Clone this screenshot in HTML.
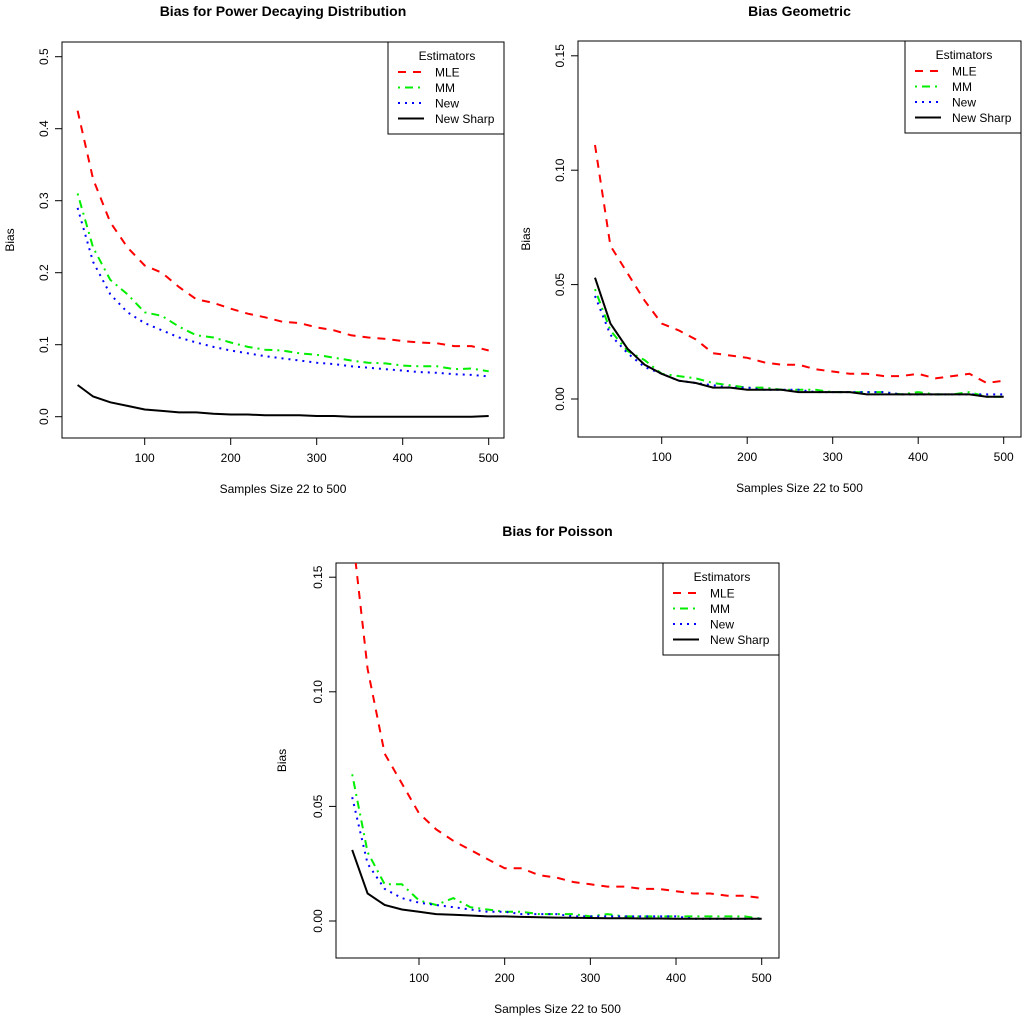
<!DOCTYPE html>
<html><head><meta charset="utf-8">
<style>
html,body{margin:0;padding:0;background:#fff;}
svg text{font-family:"Liberation Sans",Arial,sans-serif;}
</style></head>
<body>
<svg id="chart" width="1024" height="1024" viewBox="0 0 1024 1024" xmlns="http://www.w3.org/2000/svg"></svg>
<script>
const xs = [22,40,60,80,100,120,140,160,180,200,220,240,260,280,300,320,340,360,380,400,420,440,460,480,500];
const xTicks = [100,200,300,400,500];

const p1MLE = [0.425,0.33,0.27,0.235,0.21,0.2,0.18,0.163,0.158,0.15,0.143,0.138,0.132,0.13,0.124,0.12,0.113,0.11,0.108,0.105,0.103,0.102,0.098,0.098,0.092];
const p1MM = [0.31,0.235,0.19,0.17,0.145,0.14,0.125,0.113,0.11,0.103,0.097,0.093,0.092,0.088,0.086,0.082,0.078,0.075,0.074,0.071,0.07,0.07,0.066,0.067,0.063];
const p1New = [0.29,0.215,0.17,0.145,0.13,0.12,0.11,0.103,0.097,0.092,0.088,0.084,0.081,0.078,0.075,0.073,0.07,0.068,0.066,0.064,0.062,0.061,0.059,0.058,0.056];
const p1Sharp = [0.044,0.028,0.02,0.015,0.01,0.008,0.006,0.006,0.004,0.003,0.003,0.002,0.002,0.002,0.001,0.001,0.0,0.0,0.0,0.0,0.0,0.0,0.0,0.0,0.001];
const p1YTicks = ["0.0","0.1","0.2","0.3","0.4","0.5"];

const p2MLE = [0.111,0.067,0.055,0.043,0.033,0.03,0.026,0.02,0.019,0.018,0.016,0.015,0.015,0.013,0.012,0.011,0.011,0.01,0.01,0.011,0.009,0.01,0.011,0.007,0.008];
const p2MM = [0.048,0.03,0.021,0.017,0.011,0.01,0.009,0.007,0.006,0.005,0.005,0.004,0.004,0.004,0.003,0.003,0.003,0.003,0.002,0.003,0.002,0.002,0.003,0.001,0.001];
const p2New = [0.045,0.028,0.02,0.014,0.011,0.008,0.007,0.006,0.005,0.005,0.004,0.004,0.004,0.003,0.003,0.003,0.003,0.003,0.002,0.002,0.002,0.002,0.002,0.002,0.002];
const p2Sharp = [0.053,0.033,0.022,0.015,0.011,0.008,0.007,0.005,0.005,0.004,0.004,0.004,0.003,0.003,0.003,0.003,0.002,0.002,0.002,0.002,0.002,0.002,0.002,0.001,0.001];
const p2YTicks = ["0.00","0.05","0.10","0.15"];

const p3MLE = [0.17,0.11,0.073,0.06,0.047,0.04,0.035,0.031,0.027,0.023,0.023,0.02,0.019,0.017,0.016,0.015,0.015,0.014,0.014,0.013,0.012,0.012,0.011,0.011,0.01];
const p3MM = [0.064,0.03,0.016,0.016,0.009,0.007,0.01,0.006,0.005,0.004,0.004,0.003,0.003,0.003,0.002,0.003,0.002,0.002,0.002,0.002,0.002,0.002,0.002,0.002,0.001];
const p3New = [0.054,0.025,0.014,0.01,0.008,0.007,0.006,0.005,0.004,0.004,0.003,0.003,0.003,0.002,0.002,0.002,0.002,0.002,0.002,0.002,0.001,0.001,0.001,0.001,0.001];
const p3Sharp = [0.031,0.012,0.007,0.005,0.004,0.003,0.0027,0.0024,0.002,0.002,0.0018,0.0016,0.0015,0.0014,0.0013,0.0012,0.0012,0.0011,0.0011,0.001,0.001,0.001,0.001,0.001,0.001];
const p3YTicks = ["0.00","0.05","0.10","0.15"];

const NS = "http://www.w3.org/2000/svg";
const svg = document.getElementById('chart');
function mk(tag, attrs, parent){
  const e = document.createElementNS(NS, tag);
  for (const k in attrs) e.setAttribute(k, attrs[k]);
  (parent||svg).appendChild(e);
  return e;
}
const styles = [
  {name:'MLE', color:'#ff0000', dash:'8,7'},
  {name:'MM', color:'#00ee00', dash:'2,5,8,5'},
  {name:'New', color:'#0000ff', dash:'2,5'},
  {name:'New Sharp', color:'#000000', dash:''}
];

function panel(cfg){
  const g = mk('g', {});
  
  
  const xScale = v => cfg.x100 + (v-100)*(cfg.x500-cfg.x100)/400;
  const yScale = v => cfg.y0 - v*cfg.yPerUnit;
  const clipId = cfg.id + '-clip';
  const cp = mk('clipPath', {id: clipId}, g);
  mk('rect', {x:cfg.L, y:cfg.T, width:cfg.R-cfg.L, height:cfg.B-cfg.T}, cp);

  const title = mk('text', {x:(cfg.L+cfg.R)/2, y:cfg.titleY, 'text-anchor':'middle', 'font-size':14, 'font-weight':'bold'}, g);
  title.textContent = cfg.title;
  
  

  const xa = mk('g', {}, g);
  
  
  mk('line', {x1:xScale(xTicks[0]), x2:xScale(xTicks[xTicks.length-1]), y1:cfg.B, y2:cfg.B, stroke:'#000'}, xa);
  xTicks.forEach(t => {
    const x = xScale(t);
    mk('line', {x1:x, x2:x, y1:cfg.B, y2:cfg.B+7, stroke:'#000'}, xa);
    const tx = mk('text', {x:x, y:cfg.B+24, 'text-anchor':'middle', 'font-size':12}, xa);
    tx.textContent = t;
    
    
  });
  const xl = mk('text', {x:(cfg.L+cfg.R)/2, y:cfg.B+55, 'text-anchor':'middle', 'font-size':12}, g);
  xl.textContent = 'Samples Size 22 to 500';
  
  

  const ya = mk('g', {}, g);
  
  
  const yv = cfg.yTicks.map(parseFloat);
  mk('line', {x1:cfg.L, x2:cfg.L, y1:yScale(yv[0]), y2:yScale(yv[yv.length-1]), stroke:'#000'}, ya);
  cfg.yTicks.forEach(t => {
    const y = yScale(parseFloat(t));
    mk('line', {x1:cfg.L-7, x2:cfg.L, y1:y, y2:y, stroke:'#000'}, ya);
    const tx = mk('text', {x:cfg.L-14, y:y, 'text-anchor':'middle', 'font-size':12, transform:`rotate(-90 ${cfg.L-14} ${y})`}, ya);
    tx.textContent = t;
    
    
  });
  const yl = mk('text', {x:cfg.yLabX, y:(cfg.T+cfg.B)/2, 'text-anchor':'middle', 'font-size':12, transform:`rotate(-90 ${cfg.yLabX} ${(cfg.T+cfg.B)/2})`}, g);
  yl.textContent = 'Bias';
  
  

  const box = mk('rect', {x:cfg.L, y:cfg.T, width:cfg.R-cfg.L, height:cfg.B-cfg.T, fill:'none', stroke:'#000', 'stroke-width':1}, g);
  
  

  cfg.series.forEach((vals, i) => {
    const st = styles[i];
    const d = vals.map((v, j) => (j? 'L':'M') + xScale(xs[j]).toFixed(1) + ',' + yScale(v).toFixed(1)).join(' ');
    const p = mk('path', {d:d, fill:'none', stroke:st.color, 'stroke-width':2, 'stroke-dasharray':st.dash, 'clip-path':`url(#${clipId})`}, g);
    
    
  });

  const lg = mk('g', {}, g);
  
  
  const LL = cfg.R - 116, LT = cfg.T;
  mk('rect', {x:LL, y:LT, width:116, height:92, fill:'#fff', stroke:'#000'}, lg);
  const lt = mk('text', {x:LL+59, y:LT+18, 'text-anchor':'middle', 'font-size':12}, lg);
  lt.textContent = 'Estimators';
  styles.forEach((st, i) => {
    const y = LT + 30 + i*15.5;
    const e = mk('g', {}, lg);
    
    
    mk('line', {x1:LL+10, x2:LL+36, y1:y, y2:y, stroke:st.color, 'stroke-width':2, 'stroke-dasharray':st.dash}, e);
    const t = mk('text', {x:LL+47, y:y+4.5, 'font-size':12}, e);
    t.textContent = st.name;
  });
}

panel({id:'panel-power-decaying', title:'Bias for Power Decaying Distribution', L:62, T:42, R:504, B:438, titleY:16,
  x100:144.7, x500:488.7, y0:416.7, yPerUnit:720, yTicks:p1YTicks, yLabX:14,
  series:[p1MLE, p1MM, p1New, p1Sharp]});
panel({id:'panel-geometric', title:'Bias Geometric', L:578, T:41, R:1021, B:437, titleY:16,
  x100:661.7, x500:1003.7, y0:399, yPerUnit:2288, yTicks:p2YTicks, yLabX:530,
  series:[p2MLE, p2MM, p2New, p2Sharp]});
panel({id:'panel-poisson', title:'Bias for Poisson', L:336, T:563, R:779, B:958, titleY:536,
  x100:419, x500:761.7, y0:921, yPerUnit:2292, yTicks:p3YTicks, yLabX:286,
  series:[p3MLE, p3MM, p3New, p3Sharp]});
</script>
</body></html>
